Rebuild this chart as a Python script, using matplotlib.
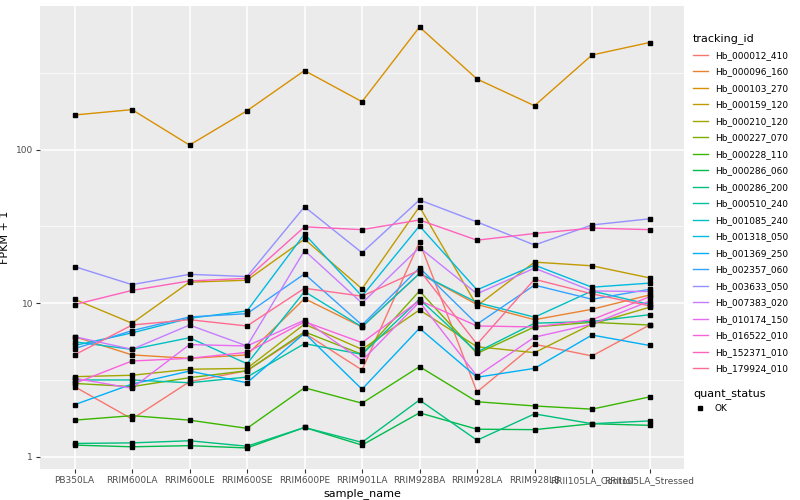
import matplotlib
matplotlib.use("Agg")
import matplotlib.pyplot as plt
from matplotlib.lines import Line2D
import numpy as np

samples = ["PB350LA", "RRIM600LA", "RRIM600LE", "RRIM600SE", "RRIM600PE", "RRIM901LA",
           "RRIM928BA", "RRIM928LA", "RRIM928LB", "RRII105LA_Control", "RRII105LA_Stressed"]

tracking_ids = ["Hb_000012_410", "Hb_000096_160", "Hb_000103_270", "Hb_000159_120",
                "Hb_000210_120", "Hb_000227_070", "Hb_000228_110", "Hb_000286_060",
                "Hb_000286_200", "Hb_000510_240", "Hb_001085_240", "Hb_001318_050",
                "Hb_001369_250", "Hb_002357_060", "Hb_003633_050", "Hb_007383_020",
                "Hb_010174_150", "Hb_016522_010", "Hb_152371_010", "Hb_179924_010"]

# FPKM + 1 (one list per tracking_id)
hb_000012_410 = [2.86, 1.76, 3.08, 3.63, 6.37, 3.67, 25.0, 2.64, 5.4, 4.53, 7.2]
hb_000096_160 = [6.05, 4.6, 4.37, 4.6, 10.7, 7.0, 15.6, 9.8, 7.8, 9.12, 11.3]
hb_000103_270 = [168, 182, 107, 179, 327, 205, 628, 288, 193, 413, 498]
hb_000159_120 = [10.6, 7.4, 13.7, 14.1, 26.1, 12.4, 42.5, 9.6, 18.5, 17.5, 14.6]
hb_000210_120 = [3.32, 3.39, 3.71, 3.76, 7.3, 5.0, 9.03, 5.2, 4.76, 7.3, 9.4]
hb_000227_070 = [3.0, 2.86, 3.27, 3.63, 6.5, 4.64, 12.0, 4.7, 7.0, 7.5, 7.2]
hb_000228_110 = [1.73, 1.85, 1.73, 1.53, 2.81, 2.23, 3.86, 2.28, 2.14, 2.04, 2.45]
hb_000286_060 = [1.19, 1.16, 1.18, 1.14, 1.55, 1.19, 1.93, 1.51, 1.5, 1.64, 1.6]
hb_000286_200 = [1.22, 1.23, 1.27, 1.17, 1.55, 1.24, 2.34, 1.28, 1.9, 1.64, 1.71]
hb_000510_240 = [3.16, 3.16, 3.03, 3.3, 5.45, 4.64, 10.6, 4.8, 7.4, 7.6, 8.4]
hb_001085_240 = [5.6, 5.0, 5.95, 4.03, 11.9, 7.0, 15.6, 10.1, 8.1, 12.0, 9.8]
hb_001318_050 = [5.3, 6.4, 7.97, 8.9, 28.2, 11.1, 31.8, 12.2, 17.7, 12.7, 13.5]
hb_001369_250 = [2.18, 2.97, 3.61, 3.03, 6.37, 2.75, 6.86, 3.29, 3.76, 6.2, 5.3]
hb_002357_060 = [5.05, 6.62, 8.13, 8.54, 15.5, 7.2, 17.0, 7.3, 13.1, 10.6, 12.3]
hb_003633_050 = [17.3, 13.2, 15.4, 14.9, 42.4, 21.3, 47.0, 33.8, 23.9, 32.3, 35.4]
hb_007383_020 = [6.05, 5.0, 7.2, 5.26, 22.0, 10.0, 23.0, 11.5, 16.9, 12.0, 11.9]
hb_010174_150 = [3.24, 2.79, 5.37, 5.26, 7.75, 4.22, 10.2, 3.35, 6.0, 7.3, 10.3]
hb_016522_010 = [3.0, 4.2, 4.37, 4.78, 7.57, 5.53, 10.4, 7.1, 7.0, 7.8, 11.0]
hb_152371_010 = [9.78, 12.1, 13.95, 14.5, 31.4, 30.1, 34.8, 25.7, 28.4, 30.8, 30.1]
hb_179924_010 = [4.6, 7.2, 7.8, 7.1, 12.5, 11.1, 16.4, 5.4, 14.3, 11.5, 9.6]

series = [hb_000012_410, hb_000096_160, hb_000103_270, hb_000159_120, hb_000210_120,
          hb_000227_070, hb_000228_110, hb_000286_060, hb_000286_200, hb_000510_240,
          hb_001085_240, hb_001318_050, hb_001369_250, hb_002357_060, hb_003633_050,
          hb_007383_020, hb_010174_150, hb_016522_010, hb_152371_010, hb_179924_010]

# ggplot2 default hue palette for 20 levels
colors = ["#F8766D", "#EA8331", "#D89000", "#C09B00", "#A3A500", "#7CAE00", "#39B600",
          "#00BB4E", "#00BF7D", "#00C1A3", "#00BFC4", "#00BAE0", "#00B0F6", "#35A2FF",
          "#9590FF", "#C77CFF", "#E76BF3", "#FA62DB", "#FF62BC", "#FF6C91"]

fig = plt.figure(figsize=(8, 5), dpi=100)
ax = fig.add_axes([0.05, 0.062, 0.805, 0.926])
ax.set_facecolor("#EBEBEB")

x = np.arange(len(samples))
for vals, col in zip(series, colors):
    ax.plot(x, vals, color=col, lw=1.0, zorder=2)
for vals in series:
    ax.plot(x, vals, ls="none", marker="s", ms=2.8, color="black", zorder=3)

ax.set_yscale("log")
lo = np.log10(min(min(s) for s in series))
hi = np.log10(max(max(s) for s in series))
pad = (hi - lo) * 0.05
ax.set_ylim(10 ** (lo - pad), 10 ** (hi + pad))
ax.set_xlim(-0.6, len(samples) - 0.4)

ax.set_yticks([1, 10, 100])
ax.set_yticklabels(["1", "10", "100"])
ax.set_yticks([10 ** 0.5, 10 ** 1.5, 10 ** 2.5], minor=True)
ax.yaxis.set_minor_formatter(matplotlib.ticker.NullFormatter())
ax.set_xticks(x)
ax.set_xticklabels(samples)

ax.grid(True, which="major", color="white", lw=1.1, zorder=0)
ax.grid(True, which="minor", axis="y", color="white", lw=0.5, zorder=0)
ax.set_axisbelow(True)
for sp in ax.spines.values():
    sp.set_visible(False)
ax.tick_params(axis="both", which="major", length=3, color="#333333",
               labelsize=6.5, labelcolor="#4D4D4D", pad=2)
ax.tick_params(axis="y", which="minor", length=0)

ax.set_xlabel("sample_name", fontsize=8, labelpad=2)
ax.set_ylabel("FPKM + 1", fontsize=8, labelpad=4)

handles = [Line2D([0], [0], color=c, lw=1.0) for c in colors]
leg1 = ax.legend(handles, tracking_ids, title="tracking_id", loc="upper left",
                 bbox_to_anchor=(0.862, 0.942), bbox_transform=fig.transFigure,
                 frameon=False, fontsize=6.5, title_fontsize=8, handlelength=1.6,
                 labelspacing=0.83, borderaxespad=0, handletextpad=0.8)
leg1._legend_box.align = "left"
ax.add_artist(leg1)

ok = [Line2D([0], [0], ls="none", marker="s", ms=2.8, color="black")]
leg2 = ax.legend(ok, ["OK"], title="quant_status", loc="upper left",
                 bbox_to_anchor=(0.862, 0.23), bbox_transform=fig.transFigure,
                 frameon=False, fontsize=6.5, title_fontsize=8, handlelength=1.6,
                 borderaxespad=0, handletextpad=0.8)
leg2._legend_box.align = "left"

fig.savefig("out.png", dpi=100)
